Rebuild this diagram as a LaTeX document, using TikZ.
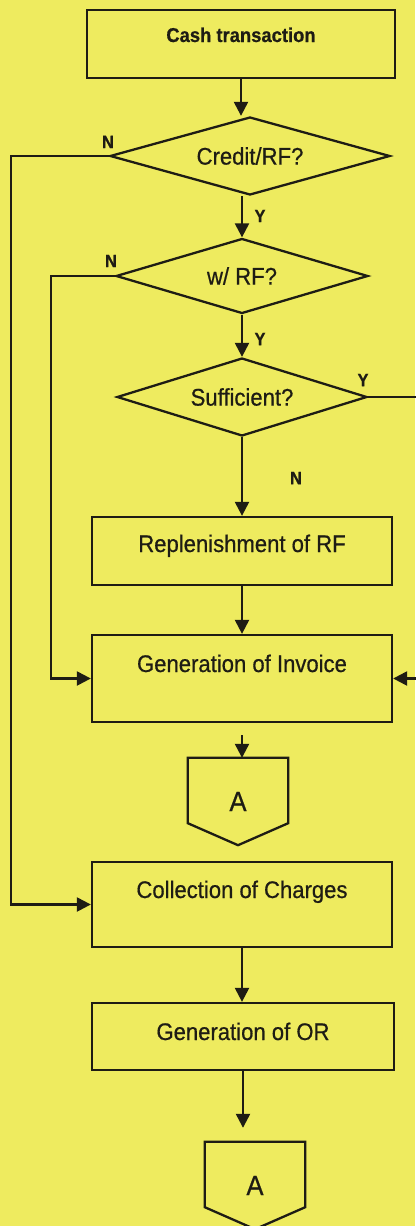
\documentclass[tikz,border=0pt]{standalone}
\usepackage{fontspec}
\setmainfont{Liberation Sans}[FakeStretch=0.92, FakeBold=0.6]
\usetikzlibrary{shapes.geometric, arrows.meta, positioning, calc}

\definecolor{bgyellow}{RGB}{238,235,95}
\definecolor{ink}{RGB}{30,28,20}

\tikzset{
  box/.style={draw=ink, line width=2.3pt, rectangle, minimum width=300pt, inner sep=0pt,
    font=\fontsize{24}{26}\selectfont, text=ink},
  decision/.style={draw=ink, line width=2.3pt, diamond, aspect=3.5, inner sep=0pt,
    font=\fontsize{24}{26}\selectfont, text=ink},
  yn/.style={font=\bfseries\fontsize{18}{19}\selectfont, text=ink, inner sep=0pt},
  offpage/.style={minimum width=100pt, minimum height=87pt, inner sep=0pt,
    font=\fontsize{28}{30}\selectfont, text=ink},
  flow/.style={draw=ink, line width=2.3pt, -{Triangle[length=14pt,width=14pt]}},
}

\begin{document}
\begin{tikzpicture}[x=1pt, y=-1pt]
\useasboundingbox (0,0) rectangle (415,1226);
\fill[bgyellow] (0,0) rectangle (415,1226);

% main column
\node[box, minimum width=308pt, text height=32pt, text depth=36pt,
  font=\bfseries\fontsize{20}{22}\selectfont] (cash) at (241,44) {Cash transaction};
\node[decision, minimum width=280pt, minimum height=78pt] (credit) at (250,156) {Credit/RF?};
\node[decision, minimum width=252pt, minimum height=75pt] (wrf) at (242,276) {w/ RF?};
\node[decision, minimum width=250pt, minimum height=78pt] (suff) at (242,397) {Sufficient?};
\node[box, text height=35pt, text depth=33pt] (repl) at (242,551) {Replenishment of RF};
\node[box, text height=37pt, text depth=50pt] (inv) at (242,678.5) {Generation of Invoice};
\node[offpage] (a1) at (238,801.5) {A};
\node[box, text height=36pt, text depth=49pt] (coll) at (242,904.5) {Collection of Charges};
\node[box, minimum width=302pt, text height=37pt, text depth=30pt] (orgen) at (243,1036.5) {Generation of OR};
\node[offpage] (a2) at (255,1185.5) {A};

% off-page connectors
\foreach \c in {a1,a2} {
  \draw[ink, line width=2.3pt] (\c.north west) -- (\c.north east) -- ([yshift=22pt]\c.south east)
    -- (\c.south) -- ([yshift=22pt]\c.south west) -- cycle;
}

% flow
\draw[flow] (cash.south) -- (cash.south |- credit.north);
\draw[flow] (wrf.north |- credit.south) -- (wrf.north);
\draw[flow] (wrf.south) -- (suff.north);
\draw[flow] (suff.south) -- (repl.north);
\draw[flow] (repl.south) -- (inv.north);
\draw[flow, shorten <=12pt] (inv.south) -- (inv.south |- a1.north);
\draw[flow] (coll.south) -- (coll.south |- orgen.north);
\draw[flow, shorten >=14pt] (orgen.south) -- (orgen.south |- a2.north);

% branches
\draw[flow] (credit.west) -- ++(-98,0) |- (coll.west);
\draw[flow] (wrf.west) -- ++(-64,0) |- (inv.west);
\draw[flow] (suff.east) -- ++(70,0) |- (inv.east);

% answers
\node[yn] (ncredit) at (108,142) {N};
\node[yn] (ycredit) at (260,216) {Y};
\node[yn] (nwrf) at (111,261) {N};
\node[yn] (ywrf) at (260,339) {Y};
\node[yn] (ysuff) at (363,380) {Y};
\node[yn] (nsuff) at (296,478) {N};
\end{tikzpicture}
\end{document}
